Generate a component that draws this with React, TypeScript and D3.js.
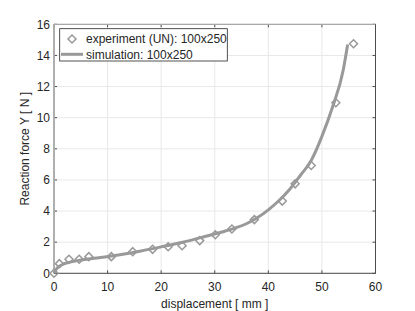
import React from 'react';
import * as d3 from 'd3';

// experiment markers (displacement mm, force N)
const expX = [0, 1, 2.8, 4.7, 6.5, 10.7, 14.7, 18.4, 21.3, 23.9, 27.2, 30.1, 33.2, 37.4, 42.6, 45, 48, 52.6, 55.9];
const expY = [0, 0.62, 0.9, 0.9, 1.07, 1.07, 1.39, 1.54, 1.71, 1.77, 2.1, 2.48, 2.85, 3.45, 4.64, 5.75, 6.93, 10.96, 14.75];

// simulation curve
const simX = [0, 0.5, 1.5, 3, 5, 8, 12, 16, 20, 24, 28, 32, 34, 36, 38, 40, 42, 44, 46, 48, 50, 52, 54, 54.8];
const simY = [0, 0.3, 0.55, 0.72, 0.85, 0.98, 1.18, 1.42, 1.7, 2.0, 2.35, 2.72, 2.93, 3.2, 3.58, 4.08, 4.68, 5.4, 6.3, 7.25, 8.8, 10.7, 13.1, 14.7];

const xTicks = [0, 10, 20, 30, 40, 50, 60];
const yTicks = [0, 2, 4, 6, 8, 10, 12, 14, 16];

const W = 415;
const H = 311;
const m = { left: 54, right: 375.5, top: 24.3, bottom: 273.3 };
const font = '"Liberation Sans", Arial, sans-serif';
const gray = '#999999';

export default function App() {
  const x = d3.scaleLinear().domain([0, 60]).range([m.left, m.right]);
  const y = d3.scaleLinear().domain([0, 16]).range([m.bottom, m.top]);
  const line = d3
    .line<number>()
    .x((_, i) => x(simX[i]))
    .y((d) => y(d))
    .curve(d3.curveMonotoneX);
  const diamond = (cx: number, cy: number, r: number) =>
    `M${cx},${cy - r}L${cx + r},${cy}L${cx},${cy + r}L${cx - r},${cy}Z`;
  const axisColor = '#4d4d4d';
  const lightAxis = '#a8a8a8';
  const fs = 12;

  return (
    <svg width={W} height={H} style={{ position: 'absolute', left: 0, top: 0 }}>
      <rect width={W} height={H} fill="#fff" />
      {xTicks.map((t) => (
        <line key={'gx' + t} x1={x(t)} x2={x(t)} y1={m.top} y2={m.bottom} stroke="#e8e8e8" />
      ))}
      {yTicks.map((t) => (
        <line key={'gy' + t} x1={m.left} x2={m.right} y1={y(t)} y2={y(t)} stroke="#e8e8e8" />
      ))}
      {xTicks.map((t) => (
        <g key={'tx' + t}>
          <line x1={x(t)} x2={x(t)} y1={m.bottom} y2={m.bottom - 3} stroke={axisColor} />
          <line x1={x(t)} x2={x(t)} y1={m.top} y2={m.top + 3} stroke={axisColor} />
          <text x={x(t)} y={291} fontSize={fs} fontFamily={font} textAnchor="middle" fill="#262626">
            {t}
          </text>
        </g>
      ))}
      {yTicks.map((t) => (
        <g key={'ty' + t}>
          <line x1={m.left} x2={m.left + 3} y1={y(t)} y2={y(t)} stroke={axisColor} />
          <line x1={m.right} x2={m.right - 3} y1={y(t)} y2={y(t)} stroke={axisColor} />
          <text x={m.left - 4} y={y(t) + 4.3} fontSize={fs} fontFamily={font} textAnchor="end" fill="#262626">
            {t}
          </text>
        </g>
      ))}
      {/* box: left/top drawn lighter, bottom/right darker */}
      <line x1={m.left} x2={m.right} y1={m.top} y2={m.top} stroke={lightAxis} strokeWidth={1.3} />
      <line x1={m.left} x2={m.left} y1={m.top} y2={m.bottom} stroke={lightAxis} strokeWidth={1.8} />
      <line x1={m.left} x2={m.right} y1={m.bottom} y2={m.bottom} stroke={axisColor} />
      <line x1={m.right} x2={m.right} y1={m.top} y2={m.bottom} stroke={axisColor} />
      <path d={line(simY) || ''} fill="none" stroke={gray} strokeWidth={3} />
      {expX.map((v, i) => (
        <path key={'e' + i} d={diamond(x(v), y(expY[i]), 4)} fill="none" stroke={gray} strokeWidth={1.5} />
      ))}
      <text x={(m.left + m.right) / 2} y={308} fontSize={fs} fontFamily={font} textAnchor="middle" fill="#262626">
        displacement [ mm ]
      </text>
      <text
        transform={`translate(29,${(m.top + m.bottom) / 2}) rotate(-90)`}
        fontSize={fs}
        fontFamily={font}
        textAnchor="middle"
        fill="#262626"
      >
        Reaction force Y [ N ]
      </text>
      <rect x={59.7} y={28.7} width={167.6} height={32.3} fill="#fff" stroke="#262626" strokeWidth={0.8} />
      <path d={diamond(72, 39, 4)} fill="none" stroke={gray} strokeWidth={1.5} />
      <text x={86} y={43.2} fontSize={fs} fontFamily={font} fill="#262626">
        experiment (UN): 100x250
      </text>
      <line x1={61} x2={83} y1={54.3} y2={54.3} stroke={gray} strokeWidth={3} />
      <text x={86} y={58.5} fontSize={fs} fontFamily={font} fill="#262626">
        simulation: 100x250
      </text>
    </svg>
  );
}
